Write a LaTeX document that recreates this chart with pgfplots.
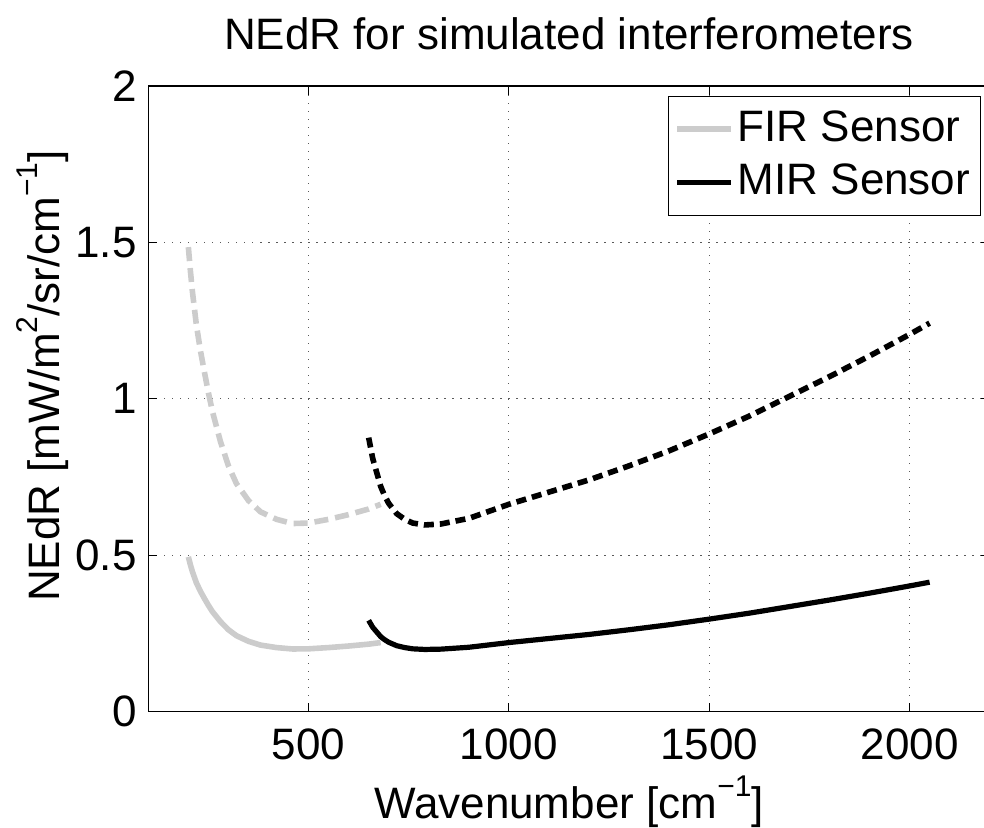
\documentclass[border=0pt]{standalone}
\usepackage{fontspec}
\setmainfont{Liberation Sans}
\usepackage{pgfplots}
\usepackage{pgfplotstable}
\pgfplotsset{compat=1.18}
\definecolor{firgray}{gray}{0.8}
\newcommand\sups[1]{\raisebox{0.5em}{\fontsize{15}{15}\selectfont #1}}

\pgfplotstableread{
x y
200 0.495
205 0.470
210 0.448
220 0.412
230 0.385
240 0.362
250 0.340
260 0.320
280 0.288
300 0.262
320 0.243
350 0.225
380 0.213
420 0.205
460 0.2005
500 0.201
550 0.205
600 0.210
650 0.216
680 0.221
}\firsolid

\pgfplotstableread{
x y
200 1.485
205 1.410
210 1.344
220 1.236
230 1.155
240 1.086
250 1.020
260 0.960
280 0.864
300 0.786
320 0.729
350 0.675
380 0.639
420 0.615
460 0.6015
500 0.603
550 0.615
600 0.630
650 0.648
680 0.663
}\firdashed

\pgfplotstableread{
x y
650 0.292
660 0.270
670 0.255
680 0.240
690 0.230
700 0.222
720 0.211
740 0.205
760 0.201
790 0.199
830 0.200
900 0.206
1000 0.221
1100 0.234
1200 0.247
1300 0.262
1400 0.278
1500 0.296
1600 0.315
1700 0.336
1800 0.357
1900 0.379
2000 0.402
2050 0.414
}\mirsolid

\pgfplotstableread{
x y
650 0.876
660 0.810
670 0.765
680 0.720
690 0.690
700 0.666
720 0.633
740 0.615
760 0.603
790 0.597
830 0.600
900 0.618
1000 0.663
1100 0.702
1200 0.741
1300 0.786
1400 0.834
1500 0.888
1600 0.945
1700 1.008
1800 1.071
1900 1.137
2000 1.206
2050 1.242
}\mirdashed

\begin{document}
\fontsize{22}{26}\selectfont
\begin{tikzpicture}
\begin{axis}[
  at={(0,0)}, anchor=south west,
  scale only axis, width=420.7pt, height=312.85pt,
  xmin=100, xmax=2200, ymin=0, ymax=2,
  xtick={500,1000,1500,2000}, ytick={0,0.5,1,1.5,2},
  scaled ticks=false,
  /pgf/number format/1000 sep={},
  /pgf/number format/assume math mode=true,
  tick label style={font=\fontsize{22}{26}\selectfont},
  xticklabel style={inner sep=0pt, yshift=-8.15pt},
  yticklabel style={inner sep=0pt, xshift=-5.65pt},
  tick align=inside,
  major tick length=4.5pt,
  every tick/.style={black, line width=0.5pt},
  axis line style={black, line width=0.6pt},
  xmajorgrids, ymajorgrids,
  major grid style={black!65, line width=0.5pt, dash pattern=on 0.6pt off 3.4pt},
  title={NEdR for simulated interferometers},
  title style={at={(axis description cs:0.5,1)}, anchor=base, yshift=12.5pt, font=\fontsize{22}{26}\selectfont, inner sep=0pt},
  xlabel={Wavenumber [cm\sups{−1}]},
  xlabel style={at={(axis description cs:0.5,0)}, anchor=base, yshift=-53.5pt, inner sep=0pt, font=\fontsize{22}{26}\selectfont},
  ylabel={NEdR [mW/m\sups{2}/sr/cm\sups{−1}]},
  ylabel style={at={(axis description cs:-0.10495,0.5365)}, anchor=base, inner sep=0pt, font=\fontsize{22}{26}\selectfont},
  legend cell align=left,
  legend image code/.code={\draw[#1] (0pt,0pt) -- (27pt,0pt);},
  legend style={at={(axis description cs:1,1)}, anchor=north east, xshift=-4.5pt, yshift=-5pt,
    draw=black, line width=0.6pt, fill=white, inner xsep=3pt, inner ysep=5pt, row sep=4pt,
    font=\fontsize{22}{26}\selectfont,
    nodes={inner sep=2pt}},
]
\addplot[firgray, line width=2.8pt] table[x=x, y=y] {\firsolid};
\addlegendentry{FIR Sensor}
\addplot[black, line width=2.6pt] table[x=x, y=y] {\mirsolid};
\addlegendentry{MIR Sensor}
\addplot[firgray, line width=2.8pt, dash pattern=on 7pt off 3.5pt, forget plot] table[x=x, y=y] {\firdashed};
\addplot[black, line width=2.8pt, dash pattern=on 5pt off 3pt, forget plot] table[x=x, y=y] {\mirdashed};
\end{axis}
\pgfresetboundingbox
\useasboundingbox (-74.15pt,-57.65pt) rectangle (417.85pt,355.85pt);
\end{tikzpicture}
\end{document}
